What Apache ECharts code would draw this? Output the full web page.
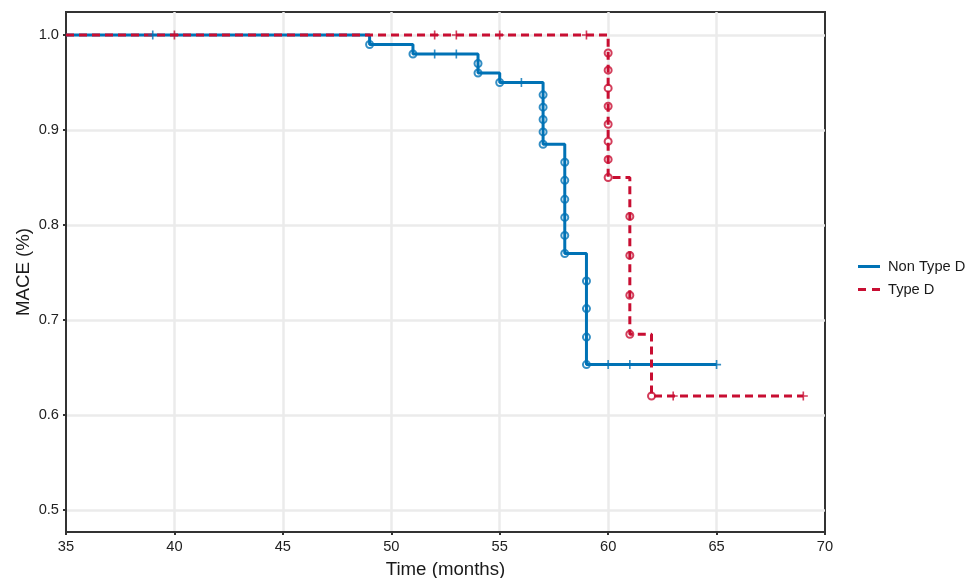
<!DOCTYPE html>
<html>
<head>
<meta charset="utf-8">
<script src="https://cdn.jsdelivr.net/npm/echarts@6/dist/echarts.min.js"></script>
<style>html,body{margin:0;padding:0;background:#fff}#c{width:977px;height:578px}</style>
</head>
<body>
<div id="c"></div>
<script>
// ---- data ----
const xTicks = [35, 40, 45, 50, 55, 60, 65, 70];
const yTicks = [0.5, 0.6, 0.7, 0.8, 0.9, 1.0];

const nonTypeDTimes = [35, 49, 51, 54, 55, 57, 58, 59, 65];
const nonTypeDSurv  = [1.0, 0.990, 0.980, 0.960, 0.950, 0.885, 0.770, 0.653, 0.653];
const nonTypeDEventTimes = [49, 51, 54, 54, 55, 57, 57, 57, 57, 57, 58, 58, 58, 58, 58, 58, 59, 59, 59, 59];
const nonTypeDEventSurv  = [0.990, 0.980, 0.970, 0.960, 0.950, 0.937, 0.924, 0.911, 0.898, 0.885, 0.866, 0.847, 0.827, 0.808, 0.789, 0.770, 0.741, 0.712, 0.682, 0.653];
const nonTypeDCensorTimes = [39, 52, 53, 56, 60, 61, 65];
const nonTypeDCensorSurv  = [1.0, 0.980, 0.980, 0.950, 0.653, 0.653, 0.653];

const typeDTimes = [35, 60, 61, 62, 69];
const typeDSurv  = [1.0, 0.850, 0.685, 0.620, 0.620];
const typeDEventTimes = [60, 60, 60, 60, 60, 60, 60, 60, 61, 61, 61, 61, 62];
const typeDEventSurv  = [0.981, 0.963, 0.944, 0.925, 0.906, 0.888, 0.869, 0.850, 0.809, 0.768, 0.726, 0.685, 0.620];
const typeDCensorTimes = [40, 52, 53, 55, 59, 63, 69];
const typeDCensorSurv  = [1.0, 1.0, 1.0, 1.0, 1.0, 0.620, 0.620];

const blue = '#0072B5';
const red = '#C80E32';
const zip = (a, b) => a.map((v, i) => [v, b[i]]);
const plus = 'path://M-0.9,-5H0.9V-0.9H5V0.9H0.9V5H-0.9V0.9H-5V-0.9H-0.9Z';
const solidIcon = 'path://M0,0H22V3H0Z';
const dashIcon = 'path://M0,0H8V3H0Z M14,0H22V3H14Z';
const font = '"Liberation Sans", Arial, Helvetica, sans-serif';

const chart = echarts.init(document.getElementById('c'), null, {renderer: 'canvas'});
chart.setOption({
  animation: false,
  backgroundColor: '#fff',
  textStyle: {fontFamily: font},
  grid: {left: 66, right: 152, top: 12, bottom: 46, show: true, borderColor: '#333', borderWidth: 2,
         backgroundColor: 'transparent', outerBoundsMode: 'none', containLabel: false},
  legend: {
    orient: 'vertical', left: 858, top: 259, padding: 0, itemWidth: 22, itemHeight: 3, itemGap: 8,
    textStyle: {fontSize: 14.67, color: '#1a1a1a', fontFamily: font, padding: [0, 0, 0, 3]},
    data: [
      {name: 'Non Type D', icon: solidIcon, itemStyle: {color: blue}},
      {name: 'Type D', icon: dashIcon, itemStyle: {color: red}}
    ]
  },
  xAxis: {
    type: 'value', min: 35, max: 70, interval: 5,
    name: 'Time (months)', nameLocation: 'middle', nameGap: 28, nameMoveOverlap: false,
    nameTextStyle: {fontSize: 18.67, color: '#1a1a1a'},
    axisLine: {show: true, lineStyle: {color: '#333', width: 2}},
    axisTick: {show: true, length: 3, lineStyle: {color: '#333', width: 2}},
    axisLabel: {fontSize: 14.67, color: '#222', margin: 7},
    splitLine: {show: true, showMinLine: false, showMaxLine: false, lineStyle: {color: '#EBEBEB', width: 2.5}}
  },
  yAxis: {
    type: 'value', min: 0.4768, max: 1.0242,
    name: 'MACE (%)', nameLocation: 'middle', nameGap: 33, nameMoveOverlap: false,
    nameTextStyle: {fontSize: 18.67, color: '#1a1a1a'},
    axisLine: {show: true, lineStyle: {color: '#333', width: 2}},
    axisTick: {show: true, length: 3, lineStyle: {color: '#333', width: 2}, customValues: yTicks},
    axisLabel: {fontSize: 14.67, color: '#222', margin: 7, customValues: yTicks, formatter: v => Number(v).toFixed(1)},
    splitLine: {show: true, lineStyle: {color: '#EBEBEB', width: 2.5}}
  },
  series: [
    {name: 'Non Type D', type: 'line', step: 'end', data: zip(nonTypeDTimes, nonTypeDSurv), symbol: 'none', showSymbol: false, z: 3,
     lineStyle: {color: blue, width: 3}, itemStyle: {color: blue}},
    {name: 'Type D', type: 'line', step: 'end', data: zip(typeDTimes, typeDSurv), symbol: 'none', showSymbol: false, z: 3,
     lineStyle: {color: red, width: 3, type: [8, 5]}, itemStyle: {color: red}},
    {type: 'scatter', data: zip(nonTypeDEventTimes, nonTypeDEventSurv), symbol: 'emptyCircle', symbolSize: 7, z: 2,
     itemStyle: {color: blue, borderColor: blue, borderWidth: 2.3}, silent: true},
    {type: 'scatter', data: zip(typeDEventTimes, typeDEventSurv), symbol: 'emptyCircle', symbolSize: 7, z: 2,
     itemStyle: {color: red, borderColor: red, borderWidth: 2.3}, silent: true},
    {type: 'scatter', data: zip(nonTypeDCensorTimes, nonTypeDCensorSurv), symbol: plus, symbolSize: 9, z: 4,
     itemStyle: {color: blue}, silent: true},
    {type: 'scatter', data: zip(typeDCensorTimes, typeDCensorSurv), symbol: plus, symbolSize: 9, z: 4,
     itemStyle: {color: red}, silent: true}
  ]
});
</script>
</body>
</html>
